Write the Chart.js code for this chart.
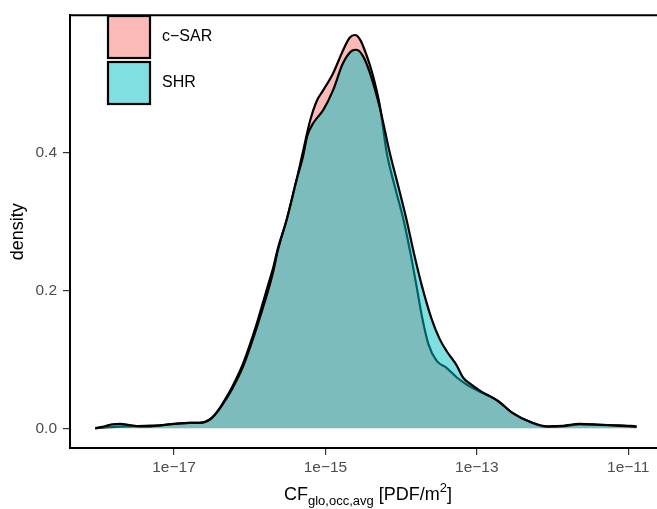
<!DOCTYPE html>
<html>
<head>
<meta charset="utf-8">
<script src="https://cdn.jsdelivr.net/npm/chart.js@4.4.0/dist/chart.umd.min.js"></script>
<style>
  html, body { margin: 0; padding: 0; background: #fff; overflow: hidden; }
</style>
</head>
<body>
<canvas id="chart" width="657" height="509"></canvas>
<script>
// log10 of CF (PDF/m2) and density
const csarLogX = [-18.04, -17.91, -17.78, -17.58, -17.38, -17.18, -16.99, -16.79, -16.66, -16.52,
  -16.43, -16.33, -16.23, -16.09, -15.91, -15.84, -15.76, -15.69, -15.63, -15.51,
  -15.38, -15.30, -15.20, -15.11, -15.03, -14.90, -14.77, -14.68, -14.61, -14.54,
  -14.45, -14.38, -14.28, -14.19, -14.08, -13.97, -13.88, -13.80, -13.72, -13.64,
  -13.53, -13.40, -13.26, -13.13, -12.96, -12.73, -12.52, -12.30, -12.07, -11.86,
  -11.64, -11.37, -11.11, -10.89];
const csarDensity = [0, 0.0014, 0.0022, 0.0029, 0.0036, 0.0043, 0.0065, 0.0079, 0.0079, 0.0135,
  0.0240, 0.0410, 0.0604, 0.0935, 0.1511, 0.1770, 0.2072, 0.2331, 0.2604, 0.3036,
  0.3612, 0.4000, 0.4475, 0.4763, 0.4906, 0.5151, 0.5482, 0.5670, 0.5710, 0.5640,
  0.5396, 0.5151, 0.4676, 0.4000, 0.3496, 0.3036, 0.2561, 0.2086, 0.1597, 0.1223,
  0.0978, 0.0878, 0.0734, 0.0633, 0.0532, 0.0403, 0.0216, 0.0094, 0.0022, 0.0029,
  0.0058, 0.0050, 0.0043, 0.0029];

const shrLogX = [-18.04, -17.91, -17.82, -17.71, -17.61, -17.45, -17.32, -17.18, -16.99, -16.79,
  -16.66, -16.52, -16.43, -16.33, -16.23, -16.09, -15.91, -15.84, -15.76, -15.69,
  -15.63, -15.51, -15.38, -15.30, -15.24, -15.16, -15.03, -14.90, -14.77, -14.65,
  -14.59, -14.50, -14.41, -14.28, -14.15, -14.04, -13.93, -13.82, -13.73, -13.60,
  -13.49, -13.40, -13.27, -13.18, -13.09, -12.96, -12.73, -12.52, -12.30, -12.07,
  -11.86, -11.64, -11.37, -11.11, -10.89];
const shrDensity = [0, 0.0029, 0.0058, 0.0065, 0.0050, 0.0029, 0.0029, 0.0043, 0.0065, 0.0079,
  0.0079, 0.0130, 0.0235, 0.0395, 0.0576, 0.0892, 0.1453, 0.1698, 0.1986, 0.2273,
  0.2576, 0.3036, 0.3612, 0.3928, 0.4245, 0.4432, 0.4619, 0.4906, 0.5295, 0.5482,
  0.5496, 0.5396, 0.5151, 0.4647, 0.4000, 0.3525, 0.3036, 0.2489, 0.2086, 0.1597,
  0.1295, 0.1122, 0.0921, 0.0734, 0.0647, 0.0547, 0.0403, 0.0216, 0.0094, 0.0029,
  0.0036, 0.0065, 0.0050, 0.0036, 0.0022];

const seriesNames = ['c\u2212SAR', 'SHR'];
const xTickExp = [-17, -15, -13, -11];
const yTicks = [0, 0.2, 0.4];

const FONT = '"Liberation Sans", Arial, sans-serif';
const fills = ['rgba(248,118,109,0.5)', 'rgba(0,191,196,0.5)'];

function toPoints(logX, dens) {
  return logX.map((lx, i) => ({ x: Math.pow(10, lx), y: dens[i] }));
}

// top border, legend and axis titles
const decorations = {
  id: 'decorations',
  afterDraw(chart) {
    const { ctx, chartArea: a } = chart;
    ctx.save();
    ctx.strokeStyle = '#000';
    ctx.lineWidth = 2;
    ctx.beginPath();
    ctx.moveTo(a.left - 1, a.top);
    ctx.lineTo(a.right, a.top);
    ctx.stroke();

    // legend
    const keyX = 108, keyY = [16, 62], keySize = 42;
    seriesNames.forEach((name, i) => {
      ctx.fillStyle = fills[i];
      ctx.fillRect(keyX, keyY[i], keySize, keySize);
      ctx.lineWidth = 2.2;
      ctx.strokeStyle = '#000';
      ctx.strokeRect(keyX, keyY[i], keySize, keySize);
      ctx.fillStyle = '#000';
      ctx.font = '16px ' + FONT;
      ctx.textAlign = 'left';
      ctx.textBaseline = 'middle';
      ctx.fillText(name, 162, keyY[i] + keySize / 2);
    });

    // y title
    ctx.save();
    ctx.translate(18, (a.top + a.bottom) / 2);
    ctx.rotate(-Math.PI / 2);
    ctx.font = '18px ' + FONT;
    ctx.textAlign = 'center';
    ctx.textBaseline = 'middle';
    ctx.fillText('density', 0, 0);
    ctx.restore();

    // x title with sub/superscript
    const parts = [
      { t: 'CF', size: 18, dy: 0 },
      { t: 'glo,occ,avg', size: 13, dy: 5 },
      { t: ' [PDF/m', size: 18, dy: 0 },
      { t: '2', size: 13, dy: -8 },
      { t: ']', size: 18, dy: 0 }
    ];
    let total = 0;
    parts.forEach(p => { ctx.font = p.size + 'px ' + FONT; p.w = ctx.measureText(p.t).width; total += p.w; });
    let x = 368 - total / 2;
    const base = 500;
    ctx.textAlign = 'left';
    ctx.textBaseline = 'alphabetic';
    parts.forEach(p => {
      ctx.font = p.size + 'px ' + FONT;
      ctx.fillText(p.t, x, base + p.dy);
      x += p.w;
    });
    ctx.restore();
  }
};

new Chart(document.getElementById('chart'), {
  type: 'line',
  data: {
    datasets: [
      {
        label: seriesNames[0],
        data: toPoints(csarLogX, csarDensity),
        backgroundColor: fills[0],
        borderColor: '#000',
        borderWidth: 2.2,
        fill: 'origin',
        pointRadius: 0,
        cubicInterpolationMode: 'monotone',
        order: 2
      },
      {
        label: seriesNames[1],
        data: toPoints(shrLogX, shrDensity),
        backgroundColor: fills[1],
        borderColor: '#000',
        borderWidth: 2.2,
        fill: 'origin',
        pointRadius: 0,
        cubicInterpolationMode: 'monotone',
        order: 1
      }
    ]
  },
  options: {
    responsive: false,
    animation: false,
    devicePixelRatio: 1,
    layout: { padding: { top: 12, left: 0, right: 0, bottom: 0 } },
    plugins: { legend: { display: false }, tooltip: { enabled: false } },
    scales: {
      x: {
        type: 'logarithmic',
        bounds: 'data',
        min: Math.pow(10, -18.374),
        max: Math.pow(10, -10.62),
        afterBuildTicks: s => { s.ticks = xTickExp.map(e => ({ value: Math.pow(10, e) })); },
        afterFit: s => { s.height = 61; },
        ticks: {
          callback: v => '1e\u2212' + Math.round(-Math.log10(v)),
          color: '#4D4D4D',
          font: { family: FONT, size: 15.5 },
          padding: 3,
          maxRotation: 0,
          autoSkip: false
        },
        grid: { drawOnChartArea: false, drawTicks: true, tickLength: 7, color: '#333', lineWidth: 1.2 },
        border: { display: true, color: '#000', width: 2 }
      },
      y: {
        bounds: 'data',
        min: -0.0286,
        max: 0.5996,
        afterBuildTicks: s => { s.ticks = yTicks.map(v => ({ value: v })); },
        afterFit: s => { s.width = 70; },
        ticks: {
          callback: v => v.toFixed(1),
          color: '#4D4D4D',
          font: { family: FONT, size: 15.5 },
          padding: 6
        },
        grid: { drawOnChartArea: false, drawTicks: true, tickLength: 7, color: '#333', lineWidth: 1.2 },
        border: { display: true, color: '#000', width: 2 }
      }
    }
  },
  plugins: [decorations]
});
</script>
</body>
</html>
